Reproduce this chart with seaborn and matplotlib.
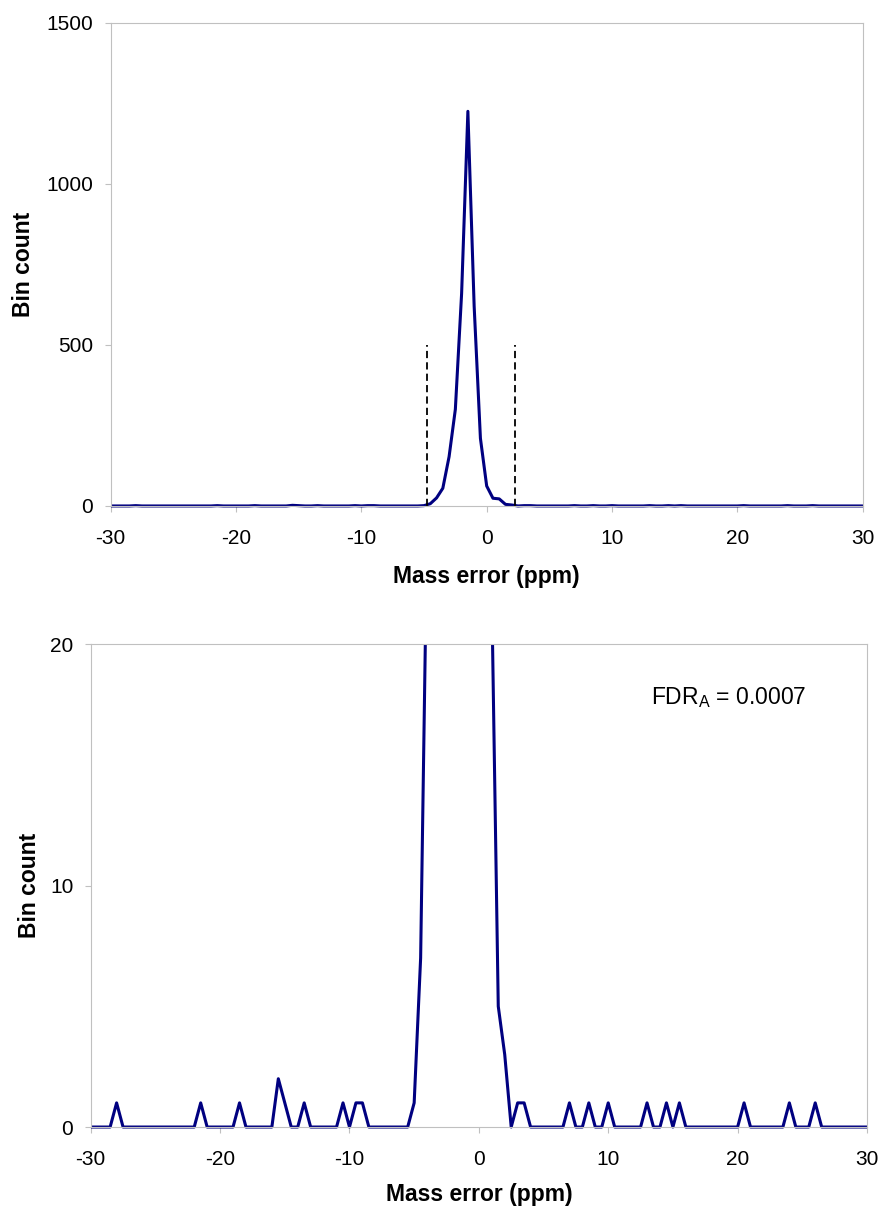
import numpy as np
import pandas as pd
import seaborn as sns
import matplotlib.pyplot as plt
from matplotlib.patches import Rectangle

## mass error bins (ppm), 0.5 ppm wide, -30 .. 30
mass_error_ppm = np.arange(-30, 30.5, 0.5)

## bin counts, one row per 5 ppm
bin_count = [
    0, 0, 0, 0, 1, 0, 0, 0, 0, 0,            # -30.0 .. -25.5
    0, 0, 0, 0, 0, 0, 0, 1, 0, 0,            # -25.0 .. -20.5
    0, 0, 0, 1, 0, 0, 0, 0, 0, 2,            # -20.0 .. -15.5
    1, 0, 0, 1, 0, 0, 0, 0, 0, 1,            # -15.0 .. -10.5
    0, 1, 1, 0, 0, 0, 0, 0, 0, 0,            # -10.0 .. -5.5
    1, 7, 25, 55, 153, 300, 660, 1225, 620, 210,  # -5.0 .. -0.5
    62, 24, 22, 5, 3, 0, 1, 1, 0, 0,         # 0.0 .. 4.5
    0, 0, 0, 0, 1, 0, 0, 1, 0, 0,            # 5.0 .. 9.5
    1, 0, 0, 0, 0, 0, 1, 0, 0, 1,            # 10.0 .. 14.5
    0, 1, 0, 0, 0, 0, 0, 0, 0, 0,            # 15.0 .. 19.5
    0, 1, 0, 0, 0, 0, 0, 0, 1, 0,            # 20.0 .. 24.5
    0, 0, 1, 0, 0, 0, 0, 0, 0, 0,            # 25.0 .. 29.5
    0,                                       # 30.0
]

## mass tolerance window (dashed lines in top panel)
cutoff_ppm = [-4.8, 2.25]
cutoff_height = 500

fdr_label = r'FDR$_{\mathrm{A}}$ = 0.0007'

x_ticks = [-30, -20, -10, 0, 10, 20, 30]
top_yticks = [0, 500, 1000, 1500]
bot_yticks = [0, 10, 20]

df = pd.DataFrame({'ppm': mass_error_ppm, 'count': bin_count})

sns.set_style("white")
plt.rcParams['font.family'] = ['Liberation Sans', 'DejaVu Sans']
plt.rcParams['mathtext.fontset'] = 'custom'
plt.rcParams['mathtext.rm'] = 'Liberation Sans'
plt.rcParams['mathtext.it'] = 'Liberation Sans:italic'
plt.rcParams['axes.unicode_minus'] = False
plt.rcParams['text.color'] = 'black'
plt.rcParams['axes.labelcolor'] = 'black'
plt.rcParams['xtick.labelcolor'] = 'black'
plt.rcParams['ytick.labelcolor'] = 'black'

LINE_COLOR = '#000080'
GRID_GREY = '#c0c0c0'

fig = plt.figure(figsize=(8.8, 12.09), dpi=100)
ax_top = fig.add_axes([0.1258, 0.5815, 0.8545, 0.3997])
ax_bot = fig.add_axes([0.1031, 0.0678, 0.8821, 0.3995])


def draw_panel(ax, yticks, ylab_x, xlab_y):
    sns.lineplot(data=df, x='ppm', y='count', ax=ax, color=LINE_COLOR, lw=2.2)
    line = ax.lines[-1]
    # let the line sit on the x axis without being cut in half
    clip = Rectangle((0, -0.02), 1, 1.02, transform=ax.transAxes, fill=False)
    line.set_clip_path(clip)

    ax.set_xlim(-30, 30)
    ax.set_ylim(yticks[0], yticks[-1])
    ax.set_xticks(x_ticks)
    ax.set_yticks(yticks)
    for s in ax.spines.values():
        s.set_visible(True)
        s.set_color(GRID_GREY)
        s.set_linewidth(0.8)
    ax.tick_params(axis='both', bottom=True, left=True, direction='out',
                   length=4.5, width=0.8, color=GRID_GREY, labelsize=15,
                   labelcolor='black')
    ax.tick_params(axis='x', pad=12)
    ax.tick_params(axis='y', pad=8)

    ax.set_xlabel('Mass error (ppm)', fontsize=16.5, fontweight='bold')
    ax.xaxis.label.set_va('baseline')
    ax.xaxis.set_label_coords(0.5, xlab_y)
    ax.set_ylabel('Bin count', fontsize=16.5, fontweight='bold')
    ax.yaxis.label.set_va('center')
    ax.yaxis.set_label_coords(ylab_x, 0.5)


draw_panel(ax_top, top_yticks, -0.1166, -0.1593)
draw_panel(ax_bot, bot_yticks, -0.0785, -0.153)

ax_top.vlines(cutoff_ppm, 0, cutoff_height, colors='black', lw=1.3,
              linestyles=(0, (4, 2.3)))

ax_bot.text(13.3, 17.5, fdr_label, fontsize=16.5, va='baseline')

fig.savefig('out.png', dpi=100)
